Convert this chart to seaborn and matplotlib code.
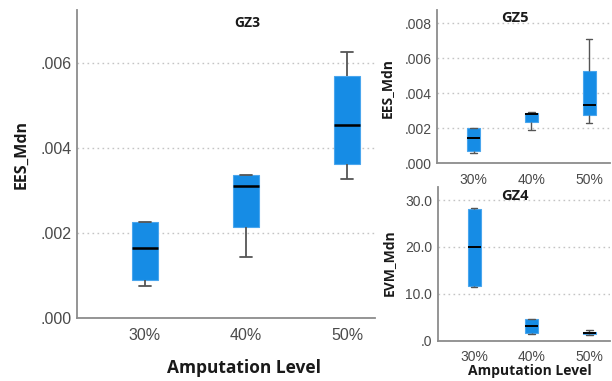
import numpy as np
import pandas as pd
import matplotlib
matplotlib.use("Agg")
import matplotlib.pyplot as plt
import seaborn as sns
from matplotlib.ticker import FuncFormatter

# ---- data (five-number summaries) ----
levels = ["30%", "40%", "50%"]

gz3_30 = [0.00075, 0.00089, 0.00164, 0.00225, 0.00226]
gz3_40 = [0.00144, 0.00214, 0.00310, 0.00336, 0.00337]
gz3_50 = [0.00327, 0.00362, 0.00455, 0.00569, 0.00625]

gz5_30 = [0.00061, 0.00072, 0.00143, 0.00200, 0.00201]
gz5_40 = [0.00189, 0.00234, 0.00280, 0.00287, 0.00291]
gz5_50 = [0.00230, 0.00274, 0.00331, 0.00526, 0.00709]

gz4_30 = [11.45, 11.6, 20.0, 28.2, 28.4]
gz4_40 = [1.5, 1.7, 3.1, 4.55, 4.6]
gz4_50 = [1.15, 1.43, 1.7, 1.92, 2.2]

gz3_ticks = [0.000, 0.002, 0.004, 0.006]
gz5_ticks = [0.000, 0.002, 0.004, 0.006, 0.008]
gz4_ticks = [0.0, 10.0, 20.0, 30.0]


def frame(groups):
    rows = []
    for lev, vals in zip(levels, groups):
        for v in vals:
            rows.append({"level": lev, "value": v})
    return pd.DataFrame(rows)


df3 = frame([gz3_30, gz3_40, gz3_50])
df5 = frame([gz5_30, gz5_40, gz5_50])
df4 = frame([gz4_30, gz4_40, gz4_50])

sns.set_style("white")
plt.rcParams["font.family"] = ["Liberation Sans", "DejaVu Sans"]

BOX = "#168CE5"
EDGE = "#4AA6EE"
WHISK = "#555555"
TICKC = "#4a4a4a"
LABC = "#1a1a1a"
SPINE = "#8c8c8c"
GRID = "#c4c4c4"
BOLDFONT = ["Open Sans", "DejaVu Sans"]

W, H = 612, 381
fig = plt.figure(figsize=(W / 100, H / 100), dpi=100)


def fx(px):
    return px / W


def fy(py):
    return 1 - py / H


ax3 = fig.add_axes([fx(77), fy(318), fx(375) - fx(77), fy(10) - fy(318)])
ax5 = fig.add_axes([fx(437), fy(163.3), fx(610) - fx(437), fy(10) - fy(163.3)])
ax4 = fig.add_axes([fx(437.7), fy(340.7), fx(610) - fx(437.7), fy(187) - fy(340.7)])


def draw(ax, df, width, lw):
    sns.boxplot(
        data=df, x="level", y="value", ax=ax, order=levels,
        width=width, color=BOX, saturation=1, whis=(0, 100),
        linewidth=lw, showfliers=False,
        boxprops={"edgecolor": EDGE, "linewidth": 0.8},
        whiskerprops={"color": WHISK, "linewidth": lw},
        capprops={"color": WHISK, "linewidth": lw},
        medianprops={"color": "black", "linewidth": lw * 1.4},
    )


draw(ax3, df3, 0.25, 1.3)
draw(ax5, df5, 0.225, 1.0)
draw(ax4, df4, 0.225, 1.0)


def dotfmt(dec):
    def f(v, pos):
        s = f"{v:.{dec}f}"
        if s.startswith("0."):
            s = s[1:]
        return s
    return FuncFormatter(f)


def style(ax, ticks, ylim, xlim, dec, tsize, title, tpos, tsz):
    ax.set_ylim(*ylim)
    ax.set_xlim(*xlim)
    ax.set_yticks(ticks)
    ax.yaxis.set_major_formatter(dotfmt(dec))
    ax.yaxis.grid(True, linestyle=(0, (1.2, 2.4)), color=GRID, linewidth=1.0)
    ax.xaxis.grid(False)
    ax.set_axisbelow(True)
    for s in ["top", "right"]:
        ax.spines[s].set_visible(False)
    for s in ["left", "bottom"]:
        ax.spines[s].set_color(SPINE)
        ax.spines[s].set_linewidth(1.3)
    ax.tick_params(axis="both", length=0, labelsize=tsize, labelcolor=TICKC)
    ax.tick_params(axis="y", pad=4)
    ax.tick_params(axis="x", pad=7)
    ax.text(tpos[0], tpos[1], title, transform=ax.transAxes, ha="center",
            va="center", fontsize=tsz, fontweight="bold", color=LABC,
            family=BOLDFONT)


style(ax3, gz3_ticks, (0, 0.00725), (-0.673, 2.277), 3, 11.5, "GZ3", (0.57, 0.958), 10)
style(ax5, gz5_ticks, (0, 0.00876), (-0.632, 2.36), 3, 10, "GZ5", (0.45, 0.948), 10.5)
style(ax4, gz4_ticks, (0, 32.8), (-0.632, 2.36), 1, 10, "GZ4", (0.449, 0.94), 10.5)

# axis labels
ax3.set_ylabel("EES_Mdn", fontsize=11.5, fontweight="bold", color=LABC, family=BOLDFONT)
ax3.yaxis.set_label_coords(-0.185, 0.53)
ax3.yaxis.label.set_va("center")
ax3.set_xlabel("Amputation Level", fontsize=12.5, fontweight="bold", color=LABC, family=BOLDFONT)
ax3.xaxis.set_label_coords(0.56, -0.162)
ax3.xaxis.label.set_va("center")

ax5.set_ylabel("EES_Mdn", fontsize=10, fontweight="bold", color=LABC, family=BOLDFONT)
ax5.yaxis.set_label_coords(-0.289, 0.494)
ax5.yaxis.label.set_va("center")
ax5.set_xlabel("")

ax4.set_ylabel("EVM_Mdn", fontsize=10, fontweight="bold", color=LABC, family=BOLDFONT)
ax4.yaxis.set_label_coords(-0.285, 0.509)
ax4.yaxis.label.set_va("center")
ax4.set_xlabel("Amputation Level", fontsize=10, fontweight="bold", color=LABC, family=BOLDFONT)
ax4.xaxis.set_label_coords(0.536, -0.2)
ax4.xaxis.label.set_va("center")

fig.savefig("out.png", dpi=100, facecolor="white")
